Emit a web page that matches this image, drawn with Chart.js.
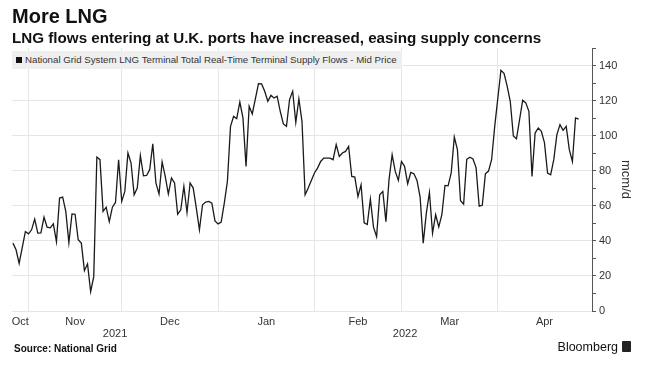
<!DOCTYPE html>
<html>
<head>
<meta charset="utf-8">
<script src="https://cdn.jsdelivr.net/npm/chart.js@4.4.1/dist/chart.umd.min.js"></script>
<style>
  html, body { margin: 0; padding: 0; background: #fff; }
  #wrap { position: relative; width: 645px; height: 373px; overflow: hidden; font-family: "Liberation Sans", Arial, sans-serif; color: #111; }
  #lngChart { position: absolute; left: 0; top: 0; }
  .title { position: absolute; left: 12px; top: 6px; font-size: 20px; line-height: 20px; font-weight: bold; }
  .subtitle { position: absolute; left: 12px; top: 30px; font-size: 15.2px; line-height: 15px; font-weight: bold; }
  .legend { position: absolute; left: 12px; top: 51px; width: 390px; height: 18px; background: #efefef; font-size: 9.7px; line-height: 18px; color: #333; white-space: nowrap; }
  .legend i { display: inline-block; width: 6px; height: 6px; background: #111; margin: 0 3px 0 4px; }
  .source { position: absolute; left: 14px; top: 344px; font-size: 10px; line-height: 10px; font-weight: bold; }
  .brand { position: absolute; right: 27px; top: 341px; font-size: 12.5px; line-height: 13px; }
  .logo { position: absolute; left: 622px; top: 341px; width: 9px; height: 11px; background: #222; border-radius: 1px; }
</style>
</head>
<body>
<div id="wrap">
  <canvas id="lngChart" width="645" height="373"></canvas>
  <div class="title">More LNG</div>
  <div class="subtitle">LNG flows entering at U.K. ports have increased, easing supply concerns</div>
  <div class="legend"><i></i>National Grid System LNG Terminal Total Real-Time Terminal Supply Flows - Mid Price</div>
  <div class="source">Source: National Grid</div>
  <div class="brand">Bloomberg</div>
  <div class="logo"></div>
</div>
<script>
// daily readings, mcm/d
const dates = [
  '2021-10-27','2021-10-28','2021-10-29','2021-10-31',
  '2021-11-01','2021-11-02','2021-11-03','2021-11-04','2021-11-05','2021-11-06','2021-11-07','2021-11-08','2021-11-09','2021-11-10',
  '2021-11-11','2021-11-12','2021-11-13','2021-11-14','2021-11-15','2021-11-16','2021-11-17','2021-11-18','2021-11-19','2021-11-20',
  '2021-11-21','2021-11-22','2021-11-23','2021-11-24','2021-11-25','2021-11-26','2021-11-27','2021-11-28','2021-11-29','2021-11-30',
  '2021-12-01','2021-12-02','2021-12-03','2021-12-04','2021-12-05','2021-12-06','2021-12-07','2021-12-08','2021-12-09','2021-12-10',
  '2021-12-11','2021-12-12','2021-12-13','2021-12-14','2021-12-15','2021-12-16','2021-12-17','2021-12-18','2021-12-19','2021-12-20',
  '2021-12-21','2021-12-22','2021-12-23','2021-12-24','2021-12-25','2021-12-26','2021-12-27','2021-12-28','2021-12-29','2021-12-30','2021-12-31',
  '2022-01-01','2022-01-02','2022-01-03','2022-01-04','2022-01-05','2022-01-06','2022-01-07','2022-01-08','2022-01-09','2022-01-10',
  '2022-01-11','2022-01-12','2022-01-14','2022-01-15','2022-01-16','2022-01-17','2022-01-18','2022-01-19','2022-01-20',
  '2022-01-21','2022-01-22','2022-01-23','2022-01-24','2022-01-25','2022-01-26','2022-01-27','2022-01-28','2022-01-29','2022-01-30',
  '2022-02-01','2022-02-02','2022-02-03','2022-02-04','2022-02-05','2022-02-06','2022-02-07','2022-02-08','2022-02-09','2022-02-10',
  '2022-02-11','2022-02-12','2022-02-13','2022-02-14','2022-02-15','2022-02-16','2022-02-17','2022-02-18','2022-02-19','2022-02-20',
  '2022-02-21','2022-02-22','2022-02-23','2022-02-24','2022-02-25','2022-02-26','2022-02-27','2022-02-28',
  '2022-03-01','2022-03-02','2022-03-03','2022-03-04','2022-03-05','2022-03-06','2022-03-07','2022-03-08','2022-03-09','2022-03-10',
  '2022-03-11','2022-03-12','2022-03-13','2022-03-14','2022-03-15','2022-03-16','2022-03-17','2022-03-18','2022-03-19','2022-03-20',
  '2022-03-21','2022-03-22','2022-03-23','2022-03-24','2022-03-25','2022-03-26','2022-03-27','2022-03-28','2022-03-29','2022-03-30','2022-03-31',
  '2022-04-02','2022-04-03','2022-04-04','2022-04-05','2022-04-06','2022-04-07','2022-04-08','2022-04-09','2022-04-10',
  '2022-04-11','2022-04-12','2022-04-13','2022-04-14','2022-04-15','2022-04-16','2022-04-17','2022-04-18','2022-04-19','2022-04-20',
  '2022-04-21','2022-04-22','2022-04-23','2022-04-24','2022-04-25','2022-04-26','2022-04-27'
];
const flows = [
  38.7, 34.9, 27.2, 45.3,
  44.0, 46.3, 52.4, 44.4, 44.6, 53.5, 47.8, 47.4, 49.7, 39.6,
  64.4, 65.0, 56.8, 39.0, 55.4, 55.2, 40.6, 38.7, 23.0, 26.9,
  11.0, 19.6, 87.8, 86.3, 56.8, 59.2, 51.0, 59.2, 61.9, 86.3,
  62.5, 68.2, 90.1, 84.4, 66.3, 70.1, 88.7, 77.1, 77.3, 80.6,
  95.4, 73.0, 66.7, 85.0, 76.8, 66.7, 75.8, 73.0, 55.2, 57.7,
  71.0, 56.2, 73.0, 70.1, 58.7, 46.3, 60.6, 62.1, 62.5, 61.5, 51.4,
  49.7, 50.7, 61.5, 73.9, 105.3, 111.0, 109.7, 119.2, 110.1, 82.5,
  116.8, 112.4, 129.7, 129.5, 125.3, 119.6, 123.0, 121.5, 122.5,
  113.9, 106.7, 105.3, 120.6, 125.3, 107.6, 121.0, 108.0, 66.3, 70.1,
  78.7, 81.5, 85.3, 87.2, 87.2, 87.2, 86.3, 94.9, 88.2, 90.1,
  91.0, 93.9, 76.8, 76.4, 65.2, 72.0, 50.3, 49.3, 63.8, 47.8,
  42.4, 66.3, 68.2, 51.0, 74.9, 89.1, 79.6, 74.5,
  85.3, 82.5, 72.6, 79.0, 78.3, 74.5, 65.0, 38.7, 55.8, 67.6,
  44.4, 54.9, 48.0, 54.9, 71.6, 71.4, 78.7, 99.2, 92.0, 62.9,
  60.9, 86.5, 87.7, 86.7, 81.8, 59.8, 60.3, 78.2, 79.8, 86.3, 105.3,
  137.3, 135.6, 128.2, 119.6, 99.8, 98.2, 109.1, 120.2, 118.7,
  113.9, 76.8, 101.5, 104.4, 102.5, 96.0, 78.7, 77.7, 86.3, 100.6,
  106.3, 103.0, 105.3, 92.0, 85.3, 110.1, 109.5
];

// axis labels
const monthNames = ['Oct', 'Nov', 'Dec', 'Jan', 'Feb', 'Mar', 'Apr'];
const monthStarts = ['2021-10-01', '2021-11-01', '2021-12-01', '2022-01-01', '2022-02-01', '2022-03-01', '2022-04-01', '2022-05-01'];
const yearNames = ['2021', '2022'];
const yearStarts = ['2021-01-01', '2022-01-01', '2023-01-01'];
const axisEnd = '2022-05-01';

const ORIGIN = Date.UTC(2021, 9, 1);
function dayOf(s) {
    const p = s.split('-').map(Number);
    return (Date.UTC(p[0], p[1] - 1, p[2]) - ORIGIN) / 86400000;
}

const xMin = dayOf(dates[0]) - 0.3;
const xMax = dayOf(axisEnd) + 0.3;

// gridlines at month starts, labels centred on the visible part of each month / year
const gridDays = new Set();
const labelAt = new Map();
monthStarts.forEach(function(s) {
    const d = dayOf(s);
    if (d > xMin && d < xMax - 1) gridDays.add(d);
});
function centre(a, b) {
    return (Math.max(a, xMin) + Math.min(b, xMax)) / 2;
}
monthNames.forEach(function(name, i) {
    labelAt.set(centre(dayOf(monthStarts[i]), dayOf(monthStarts[i + 1])), name);
});
yearNames.forEach(function(name, i) {
    labelAt.set(centre(dayOf(yearStarts[i]), dayOf(yearStarts[i + 1])), ['', name]);
});
const xTickValues = [...gridDays, ...labelAt.keys()].sort(function(a, b) { return a - b; });

Chart.defaults.font.family = '"Liberation Sans", Arial, sans-serif';
Chart.defaults.color = '#333';

new Chart(document.getElementById('lngChart'), {
    type: 'line',
    data: {
        datasets: [{
            label: 'National Grid System LNG Terminal Total Real-Time Terminal Supply Flows - Mid Price',
            data: dates.map(function(d, i) { return { x: dayOf(d), y: flows[i] }; }),
            borderColor: '#1a1a1a',
            borderWidth: 1.3,
            pointRadius: 0,
            tension: 0,
            fill: false
        }]
    },
    options: {
        responsive: false,
        animation: false,
        layout: { padding: { left: 12, top: 48, right: 0, bottom: 0 } },
        plugins: { legend: { display: false }, tooltip: { enabled: false } },
        scales: {
            x: {
                type: 'linear',
                min: xMin,
                max: xMax,
                afterBuildTicks: function(scale) {
                    scale.ticks = xTickValues.map(function(v) { return { value: v }; });
                },
                afterFit: function(scale) { scale.height = 62; },
                border: { display: false },
                grid: {
                    drawTicks: false,
                    color: function(ctx) {
                        return ctx.tick && gridDays.has(ctx.tick.value) ? '#e6e6e6' : 'rgba(0,0,0,0)';
                    }
                },
                ticks: {
                    autoSkip: false,
                    maxRotation: 0,
                    minRotation: 0,
                    padding: 5,
                    color: '#333',
                    font: { size: 11, lineHeight: '12px' },
                    callback: function(value) { return labelAt.has(value) ? labelAt.get(value) : ''; }
                }
            },
            y: {
                position: 'right',
                min: 0,
                max: 150,
                afterFit: function(scale) { scale.width = 53; },
                border: { display: true, color: '#555', width: 1 },
                grid: {
                    tickLength: 4,
                    tickColor: '#555',
                    color: function(ctx) {
                        return ctx.tick && ctx.tick.value % 20 === 0 ? '#e6e6e6' : 'rgba(0,0,0,0)';
                    }
                },
                ticks: {
                    stepSize: 10,
                    padding: 3,
                    color: '#333',
                    font: { size: 11 },
                    callback: function(value) { return value % 20 === 0 ? value : ''; }
                },
                title: {
                    display: true,
                    text: 'mcm/d',
                    color: '#333',
                    font: { size: 13 },
                    padding: { top: 12, bottom: 0 }
                }
            }
        }
    }
});
</script>
</body>
</html>
